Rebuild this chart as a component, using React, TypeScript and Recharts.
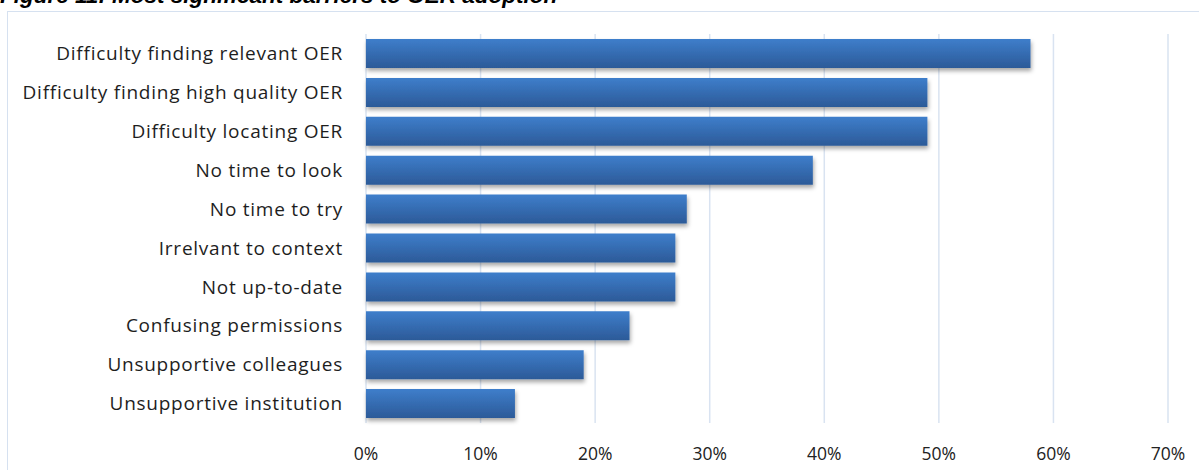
import { BarChart, Bar, XAxis, YAxis, CartesianGrid } from 'recharts';

const CATEGORIES = [
  'Difficulty finding relevant OER',
  'Difficulty finding high quality OER',
  'Difficulty locating OER',
  'No time to look',
  'No time to try',
  'Irrelvant to context',
  'Not up-to-date',
  'Confusing permissions',
  'Unsupportive colleagues',
  'Unsupportive institution',
];
const VALUES = [58, 49, 49, 39, 28, 27, 27, 23, 19, 13];
const X_TICKS = [0, 10, 20, 30, 40, 50, 60, 70];

const data = CATEGORIES.map((name, i) => ({ name, value: VALUES[i] }));

const FONT = '"Open Sans", Lato, sans-serif';

export default function App() {
  return (
    <div
      style={{
        position: 'absolute',
        left: 0,
        top: 0,
        width: 1199,
        height: 470,
        background: '#fff',
        overflow: 'hidden',
      }}
    >
      <div
        style={{
          position: 'absolute',
          left: 0,
          top: -17,
          fontFamily: '"Liberation Sans", Arial, sans-serif',
          fontWeight: 'bold',
          fontStyle: 'italic',
          fontSize: 22.5,
          color: '#000',
          whiteSpace: 'nowrap',
        }}
      >
        Figure 11: Most significant barriers to OER adoption
      </div>
      <div
        style={{
          position: 'absolute',
          left: 7,
          top: 11,
          width: 1300,
          height: 600,
          border: '1.5px solid #d6e1f0',
        }}
      />
      <div style={{ position: 'absolute', left: 0, top: 0 }}>
        <BarChart
          width={1199}
          height={470}
          layout="vertical"
          data={data}
          margin={{ top: 34, right: 31, bottom: 0, left: 0 }}
          barSize={29}
        >
          <defs>
            <linearGradient id="barFill" x1="0" y1="0" x2="0" y2="1">
              <stop offset="0%" stopColor="#3e7ecb" />
              <stop offset="100%" stopColor="#2c5a98" />
            </linearGradient>
            <filter id="barShadow" x="-5%" y="-20%" width="110%" height="160%">
              <feDropShadow dx="1" dy="3" stdDeviation="2" floodColor="#000" floodOpacity="0.35" />
            </filter>
          </defs>
          <CartesianGrid horizontal={false} stroke="#d9e3f1" strokeWidth={1.5} />
          <XAxis
            type="number"
            domain={[0, 70]}
            ticks={X_TICKS}
            tickFormatter={(v) => `${v}%`}
            axisLine={false}
            tickLine={false}
            height={47}
            tickSize={0}
            tickMargin={25}
            tick={{ fill: '#222', fontSize: 17.5, fontFamily: FONT }}
          />
          <YAxis
            type="category"
            dataKey="name"
            width={366}
            axisLine={false}
            tickLine={false}
            tickSize={0}
            tickMargin={23}
            interval={0}
            tick={{ fill: '#1e1e1e', fontSize: 19, fontFamily: FONT, letterSpacing: 0.75 }}
          />
          <Bar
            dataKey="value"
            fill="url(#barFill)"
            filter="url(#barShadow)"
            isAnimationActive={false}
          />
        </BarChart>
      </div>
    </div>
  );
}
